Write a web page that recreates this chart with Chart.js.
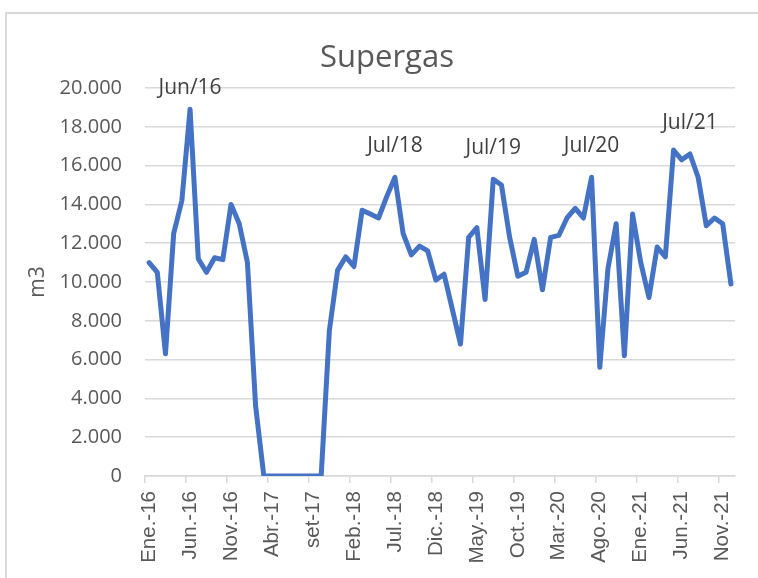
<!DOCTYPE html>
<html>
<head>
<meta charset="utf-8">
<script src="https://cdn.jsdelivr.net/npm/chart.js@4"></script>
<style>
  html, body { margin: 0; padding: 0; background: #fff; }
</style>
</head>
<body>
<canvas id="supergas" width="758" height="578"></canvas>
<script>
const months = ["Ene.", "Feb.", "Mar.", "Abr.", "May.", "Jun.", "Jul.", "Ago.", "set", "Oct.", "Nov.", "Dic."];
const years = ["16", "17", "18", "19", "20", "21"];

// m3 por mes, Ene-16 .. Dic-21
const volumes = [
  11000, 10500, 6300, 12500, 14200, 18900, 11200, 10500, 11250, 11150, 14000, 13000,
  11000, 3600, 0, 0, 0, 0, 0, 0, 0, 0, 7500, 10600,
  11300, 10800, 13700, 13500, 13300, 14400, 15400, 12500, 11400, 11850, 11600, 10100,
  10400, 8600, 6800, 12300, 12800, 9100, 15300, 15000, 12300, 10300, 10500, 12200,
  9600, 12300, 12400, 13300, 13800, 13300, 15400, 5600, 10700, 13000, 6200, 13500,
  11000, 9200, 11800, 11300, 16800, 16300, 16600, 15400, 12900, 13300, 13000, 9900
];

const peakIndex = [5, 30, 42, 54, 66];
const peakText = ["Jun/16", "Jul/18", "Jul/19", "Jul/20", "Jul/21"];

const labels = [];
years.forEach((y) => {
  months.forEach((m) => labels.push(m + "-" + y));
});

const gridGray = "#d9d9d9";
const textGray = "#595959";

// light frame like the Excel chart area + the title (centred on the frame, not the canvas)
const framePlugin = {
  id: "frame",
  beforeDraw(chart) {
    const ctx = chart.ctx;
    ctx.save();
    ctx.strokeStyle = gridGray;
    ctx.lineWidth = 2;
    ctx.strokeRect(6, 13, 800, 600);
    ctx.font = "31px 'Open Sans'";
    ctx.fillStyle = textGray;
    ctx.textAlign = "center";
    ctx.textBaseline = "middle";
    ctx.fillText("Supergas", 387, 58);
    ctx.restore();
  },
};

// Jun/16, Jul/18 ... labels over the peaks
const peakLabels = {
  id: "peakLabels",
  afterDatasetsDraw(chart) {
    const ctx = chart.ctx;
    const xs = chart.scales.x;
    const ys = chart.scales.y;
    ctx.save();
    ctx.font = "21px 'Open Sans'";
    ctx.fillStyle = "#404040";
    ctx.textAlign = "center";
    ctx.textBaseline = "middle";
    peakIndex.forEach((idx, i) => {
      const px = xs.getPixelForValue(idx);
      const py = ys.getPixelForValue(volumes[idx]);
      ctx.fillText(peakText[i], px, Math.max(py - 31, chart.chartArea.top));
    });
    ctx.restore();
  },
};

new Chart("supergas", {
  type: "line",
  data: {
    labels: labels,
    datasets: [
      {
        data: volumes,
        borderColor: "#4472c4",
        borderWidth: 5,
        borderJoinStyle: "round",
        borderCapStyle: "round",
        pointRadius: 0,
        tension: 0,
        fill: false,
      },
    ],
  },
  options: {
    responsive: false,
    animation: false,
    devicePixelRatio: 1,
    layout: { padding: { left: 0, right: 23, top: 88, bottom: 0 } },
    plugins: {
      legend: { display: false },
      tooltip: { enabled: false },
      title: { display: false },
    },
    scales: {
      x: {
        offset: true,
        afterFit: (s) => { s.height = 102; s.paddingRight = 0; },
        grid: {
          offset: true,
          drawOnChartArea: false,
          drawTicks: true,
          tickLength: 7,
          lineWidth: 1.5,
          color: (c) => (c.index % 5 === 0 ? gridGray : "rgba(0,0,0,0)"),
        },
        border: { display: true, color: gridGray, width: 1.5 },
        ticks: {
          autoSkip: false,
          minRotation: 90,
          maxRotation: 90,
          padding: 8,
          color: textGray,
          font: { family: "'Liberation Sans'", size: 20.5 },
          callback: (v, i) => (i % 5 === 0 ? labels[i] : ""),
        },
      },
      y: {
        min: 0,
        max: 20000,
        afterFit: (s) => { s.width = 145; },
        grid: { color: gridGray, lineWidth: 1.5, drawTicks: false },
        border: { display: false },
        ticks: {
          stepSize: 2000,
          padding: 23,
          color: textGray,
          font: { family: "'Open Sans'", size: 20 },
          callback: (v) => (v === 0 ? "0" : String(v).replace(/(\d)(?=(\d{3})+$)/g, "$1.")),
        },
        title: {
          display: true,
          text: "m3",
          color: textGray,
          font: { family: "'Open Sans'", size: 21 },
          padding: { top: 25, bottom: 0 },
        },
      },
    },
  },
  plugins: [framePlugin, peakLabels],
});
</script>
</body>
</html>
